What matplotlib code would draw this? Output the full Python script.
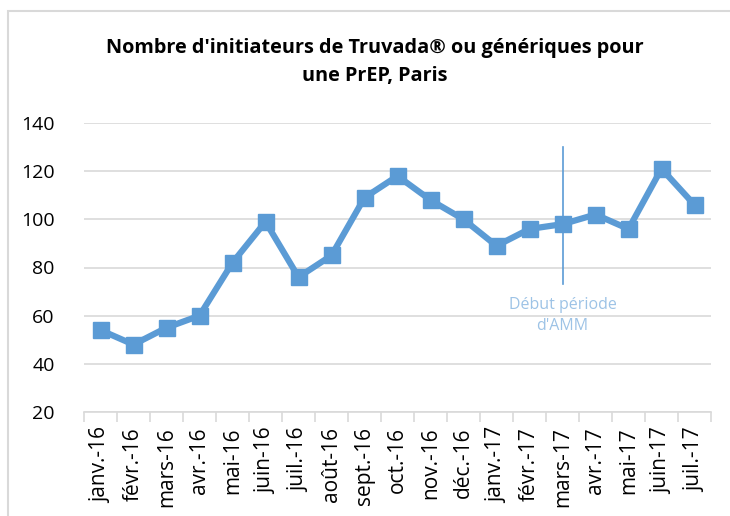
import matplotlib
matplotlib.use("Agg")
import matplotlib.pyplot as plt
from matplotlib.patches import Rectangle

months = ["janv.-16", "févr.-16", "mars-16", "avr.-16", "mai-16", "juin-16", "juil.-16",
          "août-16", "sept.-16", "oct.-16", "nov.-16", "déc.-16", "janv.-17", "févr.-17",
          "mars-17", "avr.-17", "mai-17", "juin-17", "juil.-17"]
values = [54, 48, 55, 60, 82, 99, 76, 85, 109, 118, 108, 100, 89, 96, 98, 102, 96, 121, 106]
yticks = [20, 40, 60, 80, 100, 120, 140]
marker_month = "mars-17"
marker_label = "Début période\nd'AMM"

plt.rcParams['font.family'] = ['Open Sans', 'DejaVu Sans']

W, H = 730, 516
fig = plt.figure(figsize=(W / 100, H / 100), dpi=100)
ax = fig.add_axes([84 / W, 1 - 412 / H, (711 - 84) / W, (412 - 123) / H])

x = list(range(len(months)))
ax.plot(x, values, color="#5B9BD5", linewidth=4.5, marker="s", markersize=11,
        solid_joinstyle="miter", zorder=3)

ax.set_xlim(-0.5, len(months) - 0.5)
ax.set_ylim(20, 140)
ax.set_yticks(yticks)
ax.set_yticklabels([str(v) for v in yticks], fontsize=14, color="#000000")
ax.yaxis.grid(True, color="#D9D9D9", linewidth=1.2)
ax.set_axisbelow(True)
for s in ["top", "right", "left"]:
    ax.spines[s].set_visible(False)
ax.spines["bottom"].set_color("#D9D9D9")
ax.spines["bottom"].set_linewidth(1.2)
ax.tick_params(axis="y", length=0, pad=21)

ax.set_xticks(x)
ax.set_xticklabels(months, rotation=90, fontsize=15, color="#000000")
ax.tick_params(axis="x", which="major", length=0, pad=11)
ax.set_xticks([i - 0.5 for i in range(len(months) + 1)], minor=True)
ax.tick_params(axis="x", which="minor", length=7, color="#D9D9D9", width=1.2)

mi = months.index(marker_month)
ax.plot([mi, mi], [130, 73], color="#5B9BD5", linewidth=1.2, zorder=2)
ax.text(mi, 60, marker_label, ha="center", va="center", fontsize=11.5,
        color="#9DC3E6", linespacing=1.45)

fig.text(375 / W, 1 - 62 / H, "Nombre d'initiateurs de Truvada® ou génériques pour\nune PrEP, Paris",
         ha="center", va="center", fontsize=14.3, fontweight="bold", linespacing=1.5)

fig.patches.append(Rectangle((8 / W, -0.1), 1.2, 1 - 11 / H + 0.1, transform=fig.transFigure,
                             fill=False, edgecolor="#D9D9D9", linewidth=1.5))

fig.savefig("out.png", dpi=100)
